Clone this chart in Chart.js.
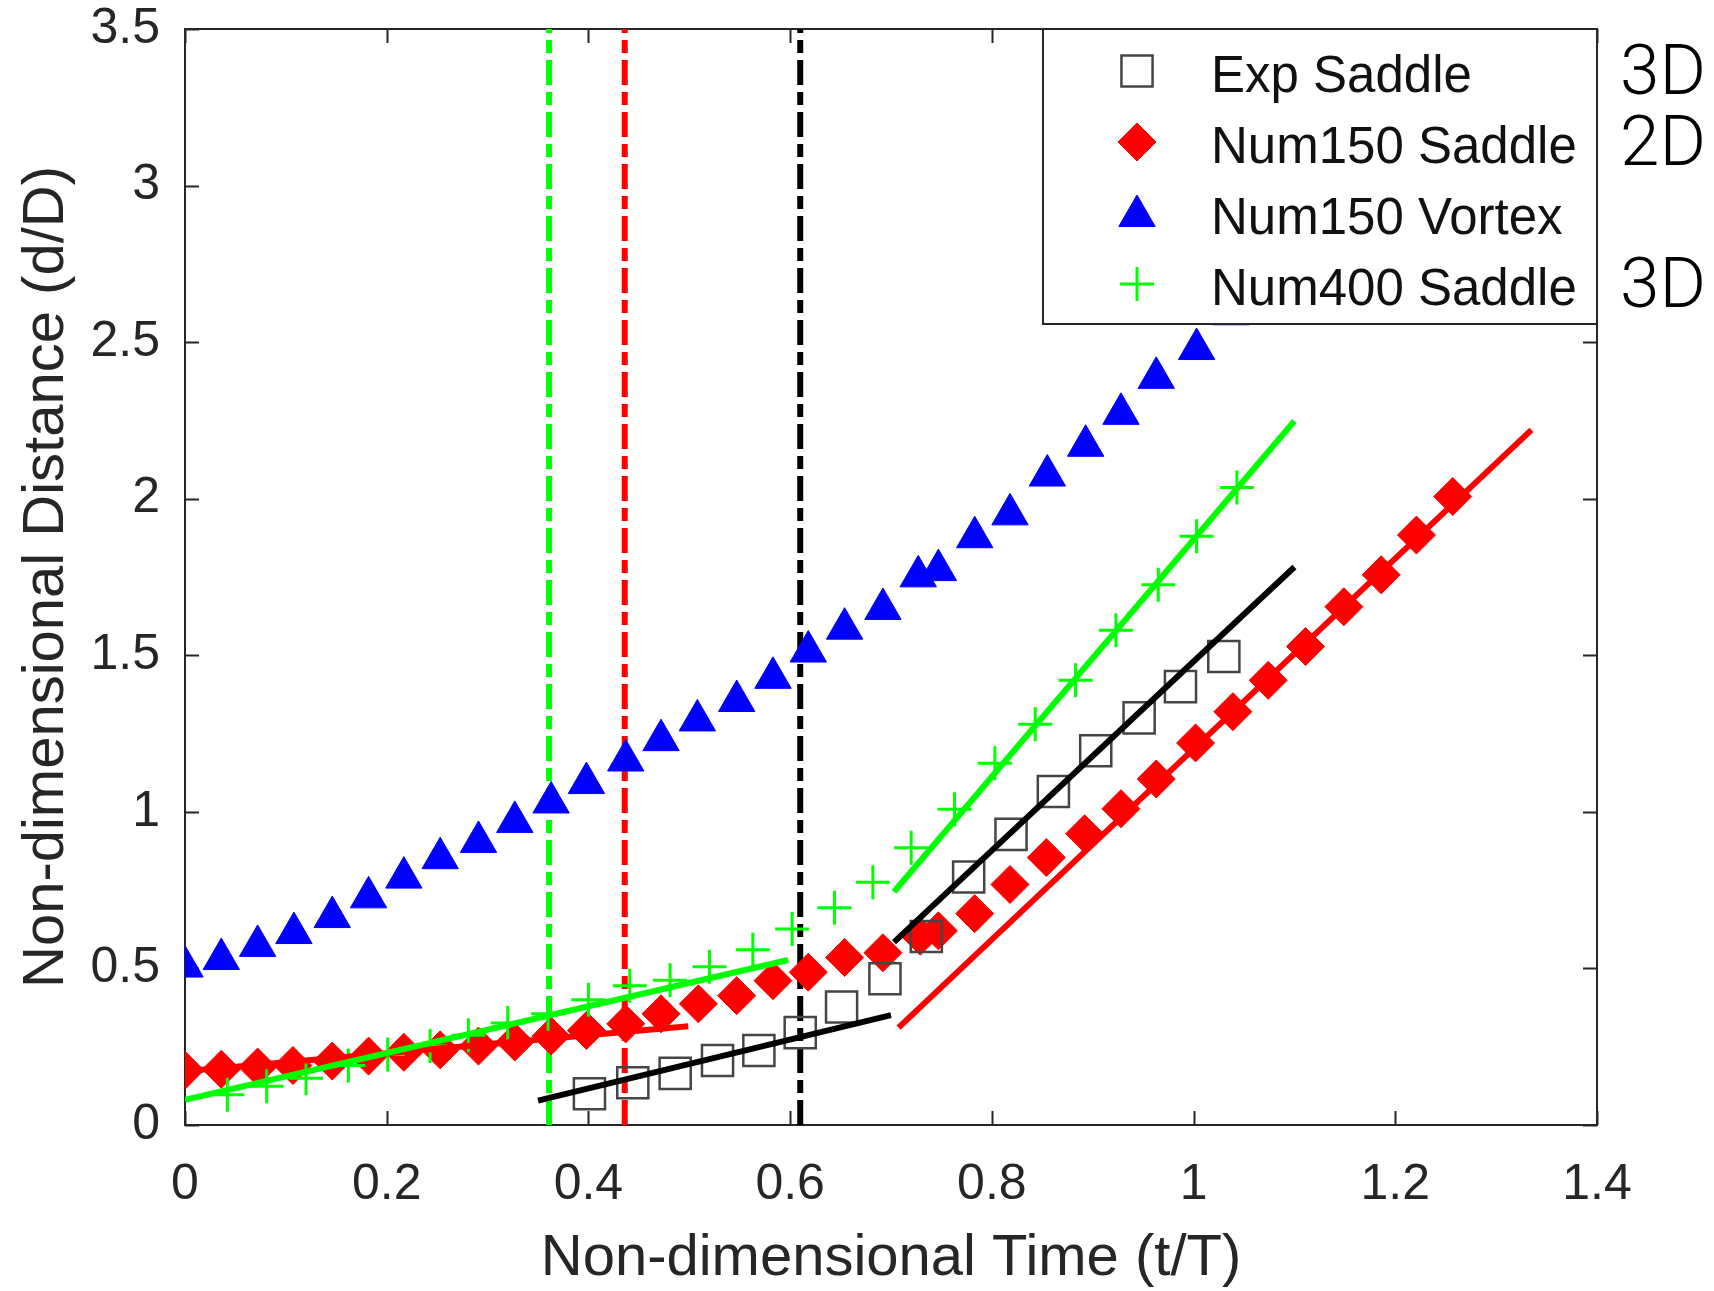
<!DOCTYPE html>
<html>
<head>
<meta charset="utf-8">
<script src="https://cdn.jsdelivr.net/npm/chart.js@4.4.1/dist/chart.umd.min.js"></script>
<style>
html,body{margin:0;padding:0;background:#fff;}
#wrap{width:1714px;height:1291px;position:relative;}
canvas{display:block;}
</style>
</head>
<body>
<div id="wrap"><canvas id="c" width="1714" height="1291" style="width:1714px;height:1291px"></canvas></div>
<script>
// ---------- data ----------
const xTickValues = [0, 0.2, 0.4, 0.6, 0.8, 1, 1.2, 1.4];
const xTickLabels = ['0', '0.2', '0.4', '0.6', '0.8', '1', '1.2', '1.4'];
const yTickValues = [0, 0.5, 1, 1.5, 2, 2.5, 3, 3.5];
const yTickLabels = ['0', '0.5', '1', '1.5', '2', '2.5', '3', '3.5'];

const legendLabels = ['Exp Saddle', 'Num150 Saddle', 'Num150 Vortex', 'Num400 Saddle'];
const dimLabels = ['3D', '2D', '', '3D'];

const expSaddleT = [0.401, 0.444, 0.486, 0.528, 0.569, 0.61, 0.651, 0.694, 0.735, 0.777, 0.819, 0.861, 0.903, 0.946, 0.987, 1.03];
const expSaddleD = [0.10, 0.135, 0.165, 0.206, 0.238, 0.295, 0.377, 0.467, 0.602, 0.792, 0.928, 1.065, 1.195, 1.30, 1.40, 1.496];

const num150SaddleT = [0.0, 0.036, 0.072, 0.107, 0.146, 0.182, 0.217, 0.253, 0.291, 0.327, 0.363, 0.398, 0.437, 0.472, 0.509, 0.547, 0.583, 0.618, 0.654, 0.692, 0.729, 0.747, 0.783, 0.818, 0.854, 0.892, 0.928, 0.963, 1.002, 1.039, 1.074, 1.111, 1.149, 1.186, 1.221, 1.257];
const num150SaddleD = [0.175, 0.178, 0.185, 0.19, 0.204, 0.22, 0.232, 0.24, 0.252, 0.265, 0.284, 0.302, 0.323, 0.355, 0.387, 0.413, 0.461, 0.488, 0.535, 0.55, 0.603, 0.62, 0.675, 0.768, 0.854, 0.93, 1.01, 1.105, 1.22, 1.32, 1.42, 1.528, 1.655, 1.757, 1.884, 2.007];

const num150VortexT = [0.0, 0.036, 0.072, 0.108, 0.146, 0.182, 0.217, 0.253, 0.291, 0.327, 0.363, 0.398, 0.437, 0.472, 0.508, 0.547, 0.583, 0.618, 0.654, 0.692, 0.727, 0.747, 0.783, 0.818, 0.855, 0.893, 0.928, 0.963, 1.003, 1.037];
const num150VortexD = [0.506, 0.53, 0.572, 0.613, 0.664, 0.727, 0.79, 0.852, 0.904, 0.968, 1.03, 1.092, 1.164, 1.229, 1.292, 1.354, 1.428, 1.512, 1.585, 1.648, 1.752, 1.772, 1.877, 1.95, 2.074, 2.169, 2.271, 2.386, 2.478, 2.589];

const num400SaddleT = [0.042, 0.081, 0.12, 0.162, 0.201, 0.243, 0.281, 0.32, 0.36, 0.40, 0.441, 0.481, 0.52, 0.563, 0.602, 0.644, 0.682, 0.72, 0.763, 0.803, 0.843, 0.883, 0.923, 0.965, 1.003, 1.043];
const num400SaddleD = [0.097, 0.124, 0.149, 0.19, 0.225, 0.252, 0.287, 0.326, 0.355, 0.40, 0.445, 0.462, 0.505, 0.56, 0.626, 0.694, 0.775, 0.885, 1.008, 1.155, 1.28, 1.42, 1.58, 1.725, 1.88, 2.036];

// linear fits (start / end)
const fitExpEarlyT = [0.35, 0.70];   const fitExpEarlyD = [0.078, 0.351];
const fitExpLateT  = [0.703, 1.10];  const fitExpLateD  = [0.584, 1.782];
const fit400EarlyT = [0.0, 0.598];   const fit400EarlyD = [0.08, 0.527];
const fit400LateT  = [0.703, 1.10];  const fit400LateD  = [0.745, 2.248];
const fit150EarlyT = [0.0, 0.499];   const fit150EarlyD = [0.172, 0.315];
const fit150LateT  = [0.7075, 1.335]; const fit150LateD = [0.311, 2.22];

// transition times (vertical dash-dot lines): Num400, Num150, Exp
const transitionT = [0.361, 0.436, 0.61];
const transitionColors = ['#00ff00', '#ff0000', '#000000'];
const yRange = [0, 3.5];

// ---------- helpers ----------
const pts = (T, D) => T.map((t, i) => ({ x: t, y: D[i] }));
const FONT = "'Liberation Sans', Arial, Helvetica, sans-serif";
const AXIS_COLOR = '#262626';

function fitLine(T, D, color) {
  return { data: pts(T, D), showLine: true, borderColor: color, borderWidth: 6,
           pointRadius: 0, fill: false, borderCapStyle: 'butt' };
}
function vLine(t, color) {
  return { data: [{ x: t, y: yRange[0] }, { x: t, y: yRange[1] }], showLine: true,
           borderColor: color, borderWidth: 6, borderDash: [25, 7, 13, 7], pointRadius: 0, fill: false };
}

const markerStyles = [
  { pointStyle: 'rect', radius: 22, fill: 'rgba(0,0,0,0)', stroke: '#454545', bw: 2.5 },
  { pointStyle: 'rectRot', radius: 19, fill: '#ff0000', stroke: '#ff0000', bw: 1 },
  { pointStyle: 'triangle', radius: 21, fill: '#0000ff', stroke: '#0000ff', bw: 1 },
  { pointStyle: 'cross', radius: 17, fill: '#00ff00', stroke: '#00ff00', bw: 3 }
];
function markerSet(T, D, s) {
  return { data: pts(T, D), showLine: false, pointStyle: s.pointStyle, pointRadius: s.radius,
           pointBackgroundColor: s.fill, pointBorderColor: s.stroke, pointBorderWidth: s.bw };
}

const datasets = [
  fitLine(fitExpEarlyT, fitExpEarlyD, '#000000'),
  fitLine(fitExpLateT, fitExpLateD, '#000000'),
  fitLine(fit400EarlyT, fit400EarlyD, '#00ff00'),
  fitLine(fit400LateT, fit400LateD, '#00ff00'),
  fitLine(fit150EarlyT, fit150EarlyD, '#ff0000'),
  fitLine(fit150LateT, fit150LateD, '#ff0000'),
  markerSet(expSaddleT, expSaddleD, markerStyles[0]),
  markerSet(num400SaddleT, num400SaddleD, markerStyles[3]),
  markerSet(num150VortexT, num150VortexD, markerStyles[2]),
  markerSet(num150SaddleT, num150SaddleD, markerStyles[1]),
  vLine(transitionT[0], transitionColors[0]),
  vLine(transitionT[1], transitionColors[1]),
  vLine(transitionT[2], transitionColors[2])
];

// ---------- plugins ----------
const framePlugin = {
  id: 'frame',
  beforeDatasetsDraw(chart) {
    const { ctx, chartArea: a, scales: { x, y } } = chart;
    ctx.save();
    ctx.strokeStyle = AXIS_COLOR;
    ctx.lineWidth = 2;
    ctx.strokeRect(a.left, a.top, a.right - a.left, a.bottom - a.top);
    const L = 14;
    ctx.beginPath();
    x.ticks.forEach(t => {
      const px = Math.round(x.getPixelForValue(t.value)) + 0.5;
      ctx.moveTo(px, a.bottom); ctx.lineTo(px, a.bottom - L);
      ctx.moveTo(px, a.top); ctx.lineTo(px, a.top + L);
    });
    y.ticks.forEach(t => {
      const py = Math.round(y.getPixelForValue(t.value)) + 0.5;
      ctx.moveTo(a.left, py); ctx.lineTo(a.left + L, py);
      ctx.moveTo(a.right, py); ctx.lineTo(a.right - L, py);
    });
    ctx.stroke();
    ctx.restore();
  }
};

function drawMarker(ctx, s, x, y) {
  ctx.save();
  ctx.fillStyle = s.fill;
  ctx.strokeStyle = s.stroke;
  ctx.lineWidth = s.bw;
  if (Chart.helpers && Chart.helpers.drawPoint) {
    Chart.helpers.drawPoint(ctx, { pointStyle: s.pointStyle, radius: s.radius, borderWidth: s.bw, rotation: 0 }, x, y);
  }
  ctx.restore();
}

const legendPlugin = {
  id: 'customLegend',
  afterDatasetsDraw(chart) {
    const { ctx, chartArea: a } = chart;
    const right = a.right, top = a.top;
    const w = 554, h = 295;
    const left = right - w;
    ctx.save();
    ctx.fillStyle = '#ffffff';
    ctx.fillRect(left, top, w, h);
    ctx.strokeStyle = AXIS_COLOR;
    ctx.lineWidth = 2;
    ctx.strokeRect(left, top, w, h);
    [0, 1, 2, 3].forEach((k, i) => {
      const base = top + 63 + i * 71;
      drawMarker(ctx, markerStyles[k], left + 94, base - 21 + (k === 2 ? 3 : 0));
      ctx.fillStyle = '#111111';
      ctx.font = '51px ' + FONT;
      ctx.textAlign = 'left';
      ctx.textBaseline = 'alphabetic';
      ctx.fillText(legendLabels[k], left + 168, base);
      if (dimLabels[k]) {
        ctx.font = "300 71px Roboto, 'Liberation Sans', sans-serif";
        ctx.fillStyle = '#000000';
        ctx.fillText(dimLabels[k], right + 23, base + 2);
      }
    });
    ctx.restore();
  }
};

// ---------- chart ----------
new Chart(document.getElementById('c'), {
  type: 'scatter',
  data: { datasets },
  plugins: [framePlugin, legendPlugin],
  options: {
    responsive: false,
    animation: false,
    events: [],
    layout: { padding: { top: 29, right: 117, left: 0, bottom: 0 } },
    plugins: { legend: { display: false }, tooltip: { enabled: false } },
    scales: {
      x: {
        type: 'linear', min: 0, max: 1.4,
        afterBuildTicks: s => { s.ticks = xTickValues.map(v => ({ value: v })); },
        afterFit: s => { s.height = 166; },
        grid: { display: false, drawTicks: true, tickLength: 30 },
        border: { display: false },
        ticks: {
          padding: 0, color: AXIS_COLOR, maxRotation: 0, autoSkip: false,
          font: { family: FONT, size: 50, lineHeight: 1.2 },
          callback: (v, i) => xTickLabels[i]
        },
        title: {
          display: true, text: 'Non-dimensional Time (t/T)', color: AXIS_COLOR,
          font: { family: FONT, size: 58, lineHeight: 1.1 }, padding: { top: 0, bottom: 0 }
        }
      },
      y: {
        type: 'linear', min: 0, max: 3.5,
        afterBuildTicks: s => { s.ticks = yTickValues.map(v => ({ value: v })); },
        afterFit: s => { s.width = 185; },
        grid: { display: false, drawTicks: true, tickLength: 25 },
        border: { display: false },
        ticks: {
          padding: 0, color: AXIS_COLOR, autoSkip: false,
          font: { family: FONT, size: 50, lineHeight: 1.0 },
          callback: (v, i) => yTickLabels[i]
        },
        title: {
          display: true, text: 'Non-dimensional Distance (d/D)', color: AXIS_COLOR,
          font: { family: FONT, size: 58, lineHeight: 1.2 }, padding: { top: 12, bottom: 0 }
        }
      }
    }
  }
});
</script>
</body>
</html>
